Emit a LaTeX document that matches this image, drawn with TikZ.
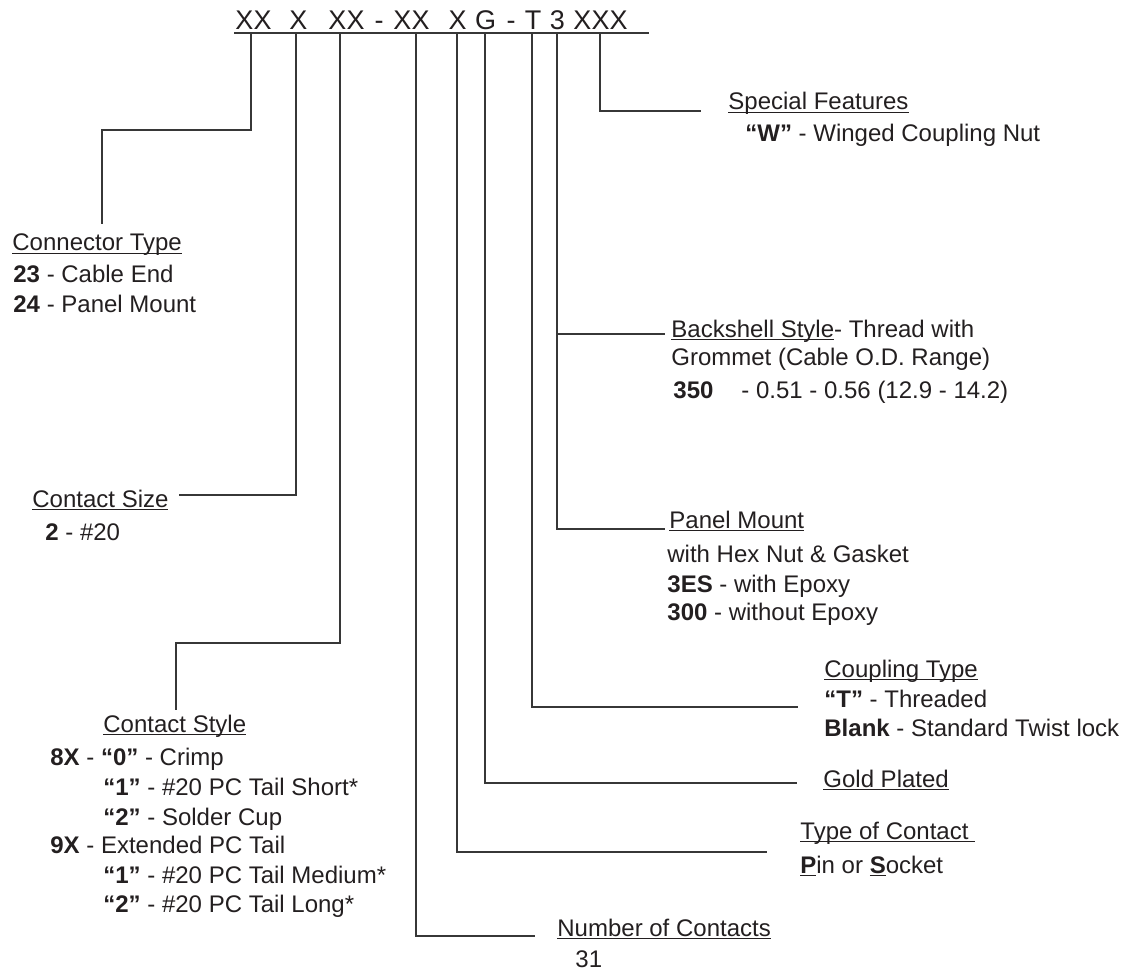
\documentclass[tikz,border=0pt]{standalone}
\usepackage{fontspec}
\setmainfont{Liberation Sans}
\usepackage{xcolor}
\definecolor{inkgray}{RGB}{35,31,32}
\definecolor{leadgray}{RGB}{55,55,55}
\newsavebox\undlbox
\newcommand{\undl}[1]{\sbox\undlbox{#1}\rlap{\rule[-1.5pt]{\wd\undlbox}{0.6pt}}\usebox\undlbox}

\begin{document}
\begin{tikzpicture}[x=0.5pt, y=-0.5pt,
    txt/.style={anchor=base west, inner sep=0pt, text=inkgray,
                font=\fontsize{12}{14}\selectfont},
    codetxt/.style={anchor=base, inner sep=0pt, text=inkgray,
                font=\fontsize{13.5}{16}\selectfont},
    lead/.style={draw=leadgray, line width=0.65pt}
]
\useasboundingbox (0,0) rectangle (1130,973);
% part number
\foreach \tok/\cx [count=\i] in {XX/253.5, X/298.5, XX/346.5, -/379, XX/411.5,
    X/457.5, G/485.5, -/511, T/533, 3/557.5, XXX/600.5}
  \node[codetxt] (tok\i) at (\cx,30) {\tok};
\coordinate (ulL) at (234,33);
\coordinate (ulR) at (649,33);
\draw[lead] (ulL) -- (ulR);
\foreach \n/\dx in {conn/251, size/296, style/340, num/416, kind/457,
    gold/485, coup/532, back/557, spec/600}
  \coordinate (d\n) at (\dx,33);

% labels
\node[txt] (spec) at (728,110) {\undl{Special Features}};
\node[txt] (spec1) at (745,142) {\textbf{“W”} - Winged Coupling Nut};

\node[txt] (conn) at (12,251) {\undl{Connector Type}};
\node[txt] (conn1) at (13,283) {\textbf{23} - Cable End};
\node[txt] (conn2) at (13,313) {\textbf{24} - Panel Mount};

\node[txt] (bsh) at (671,337) {\undl{Backshell Style}- Thread with};
\node[txt] (bsh1) at (671,365) {Grommet (Cable O.D. Range)};
\node[txt] (bsh2) at (673,398) {\textbf{350}\hspace{14pt}- 0.51 - 0.56 (12.9 - 14.2)};

\node[txt] (size) at (32,507) {\undl{Contact Size}};
\node[txt] (size1) at (45,540) {\textbf{2} - \#20};

\node[txt] (pnl) at (669,528) {\undl{Panel Mount}};
\node[txt] (pnl1) at (667,562) {with Hex Nut \& Gasket};
\node[txt] (pnl2) at (667,592) {\textbf{3ES} - with Epoxy};
\node[txt] (pnl3) at (667,620) {\textbf{300} - without Epoxy};

\node[txt] (coup) at (824,677) {\undl{Coupling Type}};
\node[txt] (coup1) at (824,707) {\textbf{“T”} - Threaded};
\node[txt] (coup2) at (824,736) {\textbf{Blank} - Standard Twist lock};

\node[txt] (style) at (103,732) {\undl{Contact Style}};
\node[txt] (style1) at (50,765) {\textbf{8X} - \textbf{“0”} - Crimp};
\node[txt] (style2) at (103,795) {\textbf{“1”} - \#20 PC Tail Short*};
\node[txt] (style3) at (103,825) {\textbf{“2”} - Solder Cup};
\node[txt] (style4) at (50,853) {\textbf{9X} - Extended PC Tail};
\node[txt] (style5) at (103,883) {\textbf{“1”} - \#20 PC Tail Medium*};
\node[txt] (style6) at (103,912) {\textbf{“2”} - \#20 PC Tail Long*};

\node[txt] (gold) at (823,787) {\undl{Gold Plated}};

\node[txt] (kind) at (800,839) {\undl{Type of Contact\ }};
\node[txt] (kind1) at (800,873) {\textbf{\undl{P}}in or \textbf{\undl{S}}ocket};

\node[txt] (num) at (557,936) {\undl{Number of Contacts}};
\node[txt] (num1) at (575,967) {31};

% leaders
\draw[lead] (dconn) |- (102,130) -- (102,224);
\draw[lead] (dsize) |- (179,495);
\draw[lead] (dstyle) |- (176,643) -- (176,710);
\draw[lead] (dnum) |- (535,936);
\draw[lead] (dkind) |- (767,852);
\draw[lead] (dgold) |- (797,783);
\draw[lead] (dcoup) |- (798,707);
\draw[lead] (dback) |- (665,529);
\draw[lead] (557,334) -- (665,334);
\draw[lead] (dspec) |- (701,111);
\end{tikzpicture}
\end{document}
